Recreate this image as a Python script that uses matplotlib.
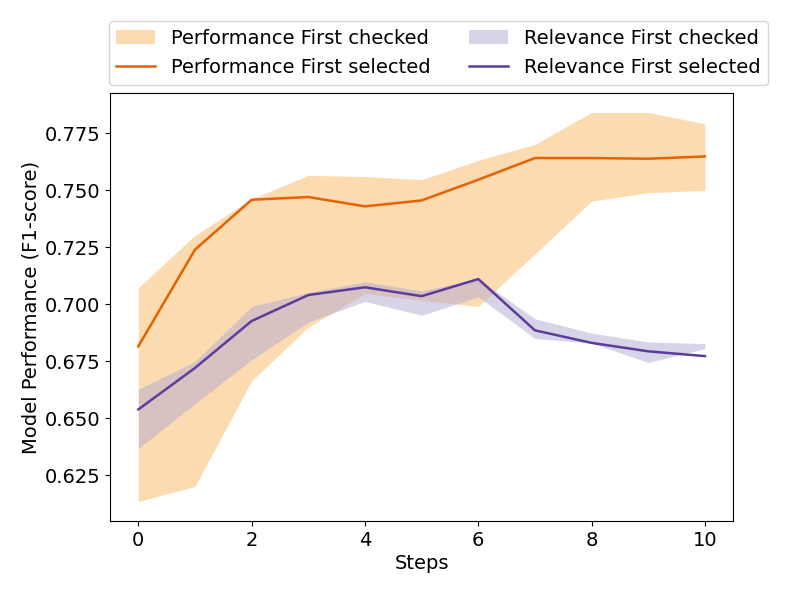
import matplotlib
matplotlib.use("Agg")
import matplotlib.pyplot as plt
import numpy as np

steps = list(range(11))

perf_selected = [0.6816, 0.7240, 0.7459, 0.7471, 0.7430, 0.7456, 0.7547, 0.7642, 0.7642, 0.7639, 0.7649]
perf_upper = [0.7073, 0.7303, 0.7463, 0.7566, 0.7561, 0.7547, 0.7632, 0.7702, 0.7842, 0.7842, 0.7792]
perf_lower = [0.6135, 0.6202, 0.6665, 0.6900, 0.7048, 0.7017, 0.6991, 0.7222, 0.7453, 0.7490, 0.7500]

rel_selected = [0.6539, 0.6721, 0.6927, 0.7041, 0.7075, 0.7036, 0.7111, 0.6886, 0.6831, 0.6794, 0.6773]
rel_upper = [0.6627, 0.6749, 0.6991, 0.7052, 0.7099, 0.7059, 0.7113, 0.6937, 0.6874, 0.6835, 0.6828]
rel_lower = [0.6368, 0.6564, 0.6757, 0.6922, 0.7013, 0.6952, 0.7033, 0.6850, 0.6830, 0.6745, 0.6806]

fs = 14
plt.rcParams['font.size'] = fs
fig = plt.figure(figsize=(7.93, 5.95), dpi=100)
ax = fig.add_axes([0.1387, 0.1244, 0.786, 0.7193])

ax.fill_between(steps, perf_lower, perf_upper, color='#fdb863', alpha=0.5, linewidth=0,
                label='Performance First checked')
ax.plot(steps, perf_selected, color='#e66101', linewidth=1.8, label='Performance First selected')
ax.fill_between(steps, rel_lower, rel_upper, color='#b2abd2', alpha=0.5, linewidth=0,
                label='Relevance First checked')
ax.plot(steps, rel_selected, color='#5e3c99', linewidth=1.8, label='Relevance First selected')

ax.set_xlabel('Steps', fontsize=fs, labelpad=3)
ax.set_ylabel('Model Performance (F1-score)', fontsize=fs, labelpad=3)
ax.set_xticks([0, 2, 4, 6, 8, 10])
ax.set_yticks([0.625, 0.650, 0.675, 0.700, 0.725, 0.750, 0.775])
ax.tick_params(labelsize=fs)

handles, labels = ax.get_legend_handles_labels()
ax.legend(handles, labels, ncol=2,
          loc='lower center', bbox_to_anchor=(0.527, 0.997), fontsize=fs, frameon=True)

fig.savefig('out.png', dpi=100)
